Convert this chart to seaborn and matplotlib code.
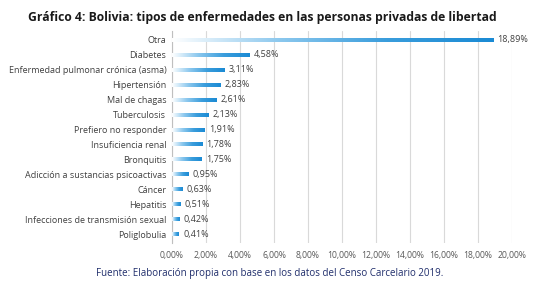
import numpy as np
import pandas as pd
import matplotlib
matplotlib.use("Agg")
import matplotlib.pyplot as plt
import seaborn as sns
from matplotlib.colors import LinearSegmentedColormap

categories = ["Otra", "Diabetes", "Enfermedad pulmonar crónica (asma)", "Hipertensión",
              "Mal de chagas", "Tuberculosis", "Prefiero no responder", "Insuficiencia renal",
              "Bronquitis", "Adicción a sustancias psicoactivas", "Cáncer", "Hepatitis",
              "Infecciones de transmisión sexual", "Poliglobulia"]
values = [18.89, 4.58, 3.11, 2.83, 2.61, 2.13, 1.91, 1.78, 1.75, 0.95, 0.63, 0.51, 0.42, 0.41]
tick_values = [0, 2, 4, 6, 8, 10, 12, 14, 16, 18, 20]
tick_labels = ["0,00%", "2,00%", "4,00%", "6,00%", "8,00%", "10,00%", "12,00%",
               "14,00%", "16,00%", "18,00%", "20,00%"]
title = "Gráfico 4: Bolivia: tipos de enfermedades en las personas privadas de libertad"
source = "Fuente: Elaboración propia con base en los datos del Censo Carcelario 2019."

df = pd.DataFrame({"cat": categories, "val": values})

sns.set_style("white")
plt.rcParams["font.family"] = ["Open Sans", "DejaVu Sans"]

fig = plt.figure(figsize=(5.39, 2.86), dpi=100)
ax = fig.add_axes([0.319, 0.150, 0.631, 0.742])

blue = "#1a8ad4"
sns.barplot(data=df, x="val", y="cat", ax=ax, color=blue, width=0.27, saturation=1, zorder=3)

cmap = LinearSegmentedColormap.from_list("g", ["#ffffff", "#8cc8ee", "#3a9ddc", blue])
grad = np.linspace(0, 1, 256).reshape(1, -1)
for p in ax.patches:
    x0, y0 = p.get_x(), p.get_y()
    w, h = p.get_width(), p.get_height()
    p.set_facecolor("none")
    p.set_edgecolor("none")
    im = ax.imshow(grad, extent=[x0, x0 + w, y0 + h, y0], aspect="auto", cmap=cmap,
                   zorder=3, interpolation="bicubic")
    im.set_clip_path(p)

for i, v in enumerate(values):
    ax.text(v + 0.25, i, f"{v:.2f}%".replace(".", ","), va="center", ha="left",
            fontsize=6.5, color="#404040")

ax.set_xlim(0, 20)
ax.set_ylim(len(values) - 0.4, -0.6)
ax.set_xticks(tick_values)
ax.set_xticklabels(tick_labels, fontsize=6.2, color="#595959")
ax.tick_params(axis="y", labelsize=6.5, labelcolor="#404040", length=0, pad=4)
ax.tick_params(axis="x", length=0, pad=6)
ax.set_xlabel("")
ax.set_ylabel("")
ax.grid(axis="x", color="#d9d9d9", linewidth=0.8, zorder=0)
ax.set_axisbelow(True)
for s in ["top", "right", "bottom"]:
    ax.spines[s].set_visible(False)
ax.spines["left"].set_color("#bfbfbf")
ax.spines["left"].set_linewidth(0.8)

fig.text(0.487, 0.94, title, ha="center", va="center", fontsize=8.7,
         fontweight="bold", color="#1a1a1a")
fig.text(0.50, 0.043, source, ha="center", va="center", fontsize=7.0, color="#1f2d6b")

fig.savefig("out.png", dpi=100)
